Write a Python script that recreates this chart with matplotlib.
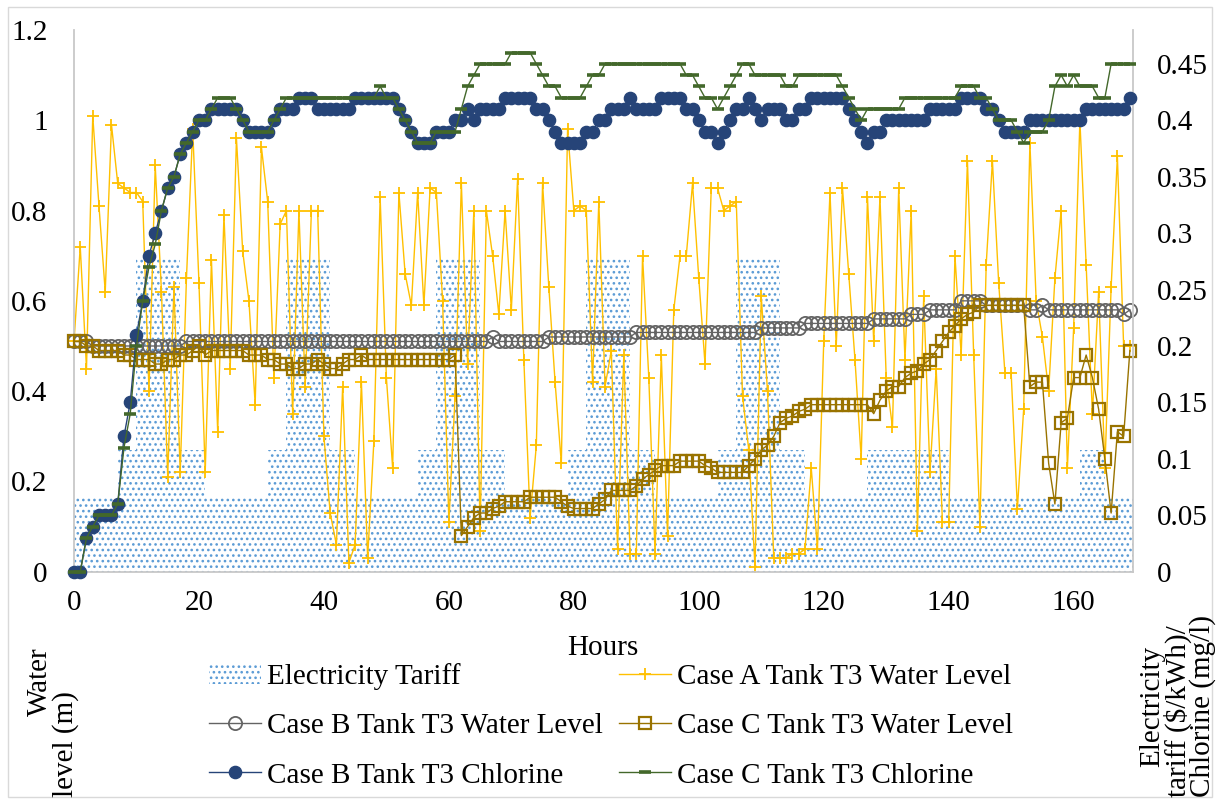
import matplotlib
matplotlib.use('Agg')
import matplotlib.pyplot as plt
from matplotlib.patches import Patch, Rectangle
from matplotlib.lines import Line2D

plt.rcParams['font.family'] = ['Liberation Serif', 'DejaVu Serif']
plt.rcParams['hatch.linewidth'] = 1.1
plt.rcParams['hatch.color'] = '#5B9BD5'

hours = list(range(170))

case_a_level = [
    0.51, 0.72, 0.45, 1.01, 0.81, 0.62, 0.99, 0.86, 0.85, 0.84,
    0.84, 0.82, 0.40, 0.90, 0.62, 0.21, 0.63, 0.22, 0.65, 0.98,
    0.64, 0.22, 0.69, 0.31, 0.79, 0.45, 0.96, 0.71, 0.60, 0.37,
    0.94, 0.82, 0.43, 0.77, 0.80, 0.35, 0.80, 0.41, 0.80, 0.80,
    0.30, 0.13, 0.06, 0.41, 0.02, 0.06, 0.42, 0.03, 0.29, 0.83,
    0.43, 0.23, 0.84, 0.66, 0.59, 0.84, 0.59, 0.85, 0.84, 0.60,
    0.11, 0.39, 0.86, 0.46, 0.80, 0.09, 0.80, 0.70, 0.57, 0.80,
    0.58, 0.87, 0.47, 0.12, 0.28, 0.86, 0.63, 0.42, 0.24, 0.98,
    0.80, 0.81, 0.80, 0.42, 0.82, 0.41, 0.49, 0.05, 0.48, 0.04,
    0.04, 0.70, 0.43, 0.04, 0.48, 0.08, 0.58, 0.70, 0.70, 0.86,
    0.65, 0.46, 0.85, 0.85, 0.80, 0.81, 0.82, 0.39, 0.27, 0.01,
    0.61, 0.40, 0.03, 0.03, 0.03, 0.04, 0.04, 0.05, 0.23, 0.05,
    0.51, 0.84, 0.50, 0.85, 0.66, 0.47, 0.25, 0.83, 0.51, 0.83,
    0.43, 0.32, 0.85, 0.47, 0.80, 0.09, 0.61, 0.22, 0.45, 0.11,
    0.11, 0.70, 0.48, 0.91, 0.48, 0.10, 0.68, 0.91, 0.64, 0.44,
    0.44, 0.14, 0.36, 0.95, 0.60, 0.52, 0.40, 0.65, 0.80, 0.23,
    0.54, 1.00, 0.68, 0.35, 0.62, 0.23, 0.63, 0.92, 0.50, 0.50,
]

case_b_level = [
    0.51, 0.51, 0.51, 0.50, 0.50, 0.50, 0.50, 0.50, 0.50, 0.50,
    0.50, 0.50, 0.50, 0.50, 0.50, 0.50, 0.50, 0.50, 0.51, 0.51,
    0.51, 0.51, 0.51, 0.51, 0.51, 0.51, 0.51, 0.51, 0.51, 0.51,
    0.51, 0.51, 0.51, 0.51, 0.51, 0.51, 0.51, 0.51, 0.51, 0.51,
    0.51, 0.51, 0.51, 0.51, 0.51, 0.51, 0.51, 0.51, 0.51, 0.51,
    0.51, 0.51, 0.51, 0.51, 0.51, 0.51, 0.51, 0.51, 0.51, 0.51,
    0.51, 0.51, 0.51, 0.51, 0.51, 0.51, 0.51, 0.52, 0.51, 0.51,
    0.51, 0.51, 0.51, 0.51, 0.51, 0.51, 0.52, 0.52, 0.52, 0.52,
    0.52, 0.52, 0.52, 0.52, 0.52, 0.52, 0.52, 0.52, 0.52, 0.52,
    0.53, 0.53, 0.53, 0.53, 0.53, 0.53, 0.53, 0.53, 0.53, 0.53,
    0.53, 0.53, 0.53, 0.53, 0.53, 0.53, 0.53, 0.53, 0.53, 0.53,
    0.54, 0.54, 0.54, 0.54, 0.54, 0.54, 0.54, 0.55, 0.55, 0.55,
    0.55, 0.55, 0.55, 0.55, 0.55, 0.55, 0.55, 0.55, 0.56, 0.56,
    0.56, 0.56, 0.56, 0.56, 0.57, 0.57, 0.57, 0.58, 0.58, 0.58,
    0.58, 0.58, 0.60, 0.60, 0.60, 0.60, 0.59, 0.59, 0.59, 0.59,
    0.59, 0.59, 0.59, 0.58, 0.58, 0.59, 0.58, 0.58, 0.58, 0.58,
    0.58, 0.58, 0.58, 0.58, 0.58, 0.58, 0.58, 0.58, 0.57, 0.58,
]

case_c_level = [
    0.51, 0.51, 0.50, 0.50, 0.49, 0.49, 0.49, 0.49, 0.48, 0.48,
    0.47, 0.47, 0.47, 0.46, 0.46, 0.47, 0.47, 0.48, 0.48, 0.49,
    0.50, 0.48, 0.49, 0.49, 0.49, 0.49, 0.49, 0.49, 0.48, 0.48,
    0.48, 0.47, 0.47, 0.46, 0.46, 0.45, 0.45, 0.46, 0.46, 0.47,
    0.46, 0.45, 0.45, 0.46, 0.47, 0.47, 0.48, 0.47, 0.47, 0.47,
    0.47, 0.47, 0.47, 0.47, 0.47, 0.47, 0.47, 0.47, 0.47, 0.47,
    0.47, 0.48, 0.08, 0.10, 0.12, 0.13, 0.13, 0.14, 0.145, 0.155,
    0.155, 0.155, 0.155, 0.165, 0.165, 0.165, 0.165, 0.165, 0.155, 0.145,
    0.14, 0.14, 0.14, 0.14, 0.15, 0.16, 0.18, 0.18, 0.18, 0.18,
    0.19, 0.205, 0.215, 0.225, 0.235, 0.235, 0.235, 0.245, 0.245, 0.245,
    0.245, 0.235, 0.23, 0.22, 0.22, 0.22, 0.22, 0.22, 0.235, 0.25,
    0.27, 0.28, 0.30, 0.33, 0.34, 0.345, 0.355, 0.36, 0.37, 0.37,
    0.37, 0.37, 0.37, 0.37, 0.37, 0.37, 0.37, 0.37, 0.35, 0.38,
    0.40, 0.41, 0.41, 0.43, 0.44, 0.445, 0.46, 0.47, 0.49, 0.51,
    0.53, 0.545, 0.56, 0.57, 0.575, 0.59, 0.59, 0.59, 0.59, 0.59,
    0.59, 0.59, 0.59, 0.41, 0.42, 0.42, 0.24, 0.15, 0.33, 0.34,
    0.43, 0.43, 0.48, 0.43, 0.36, 0.25, 0.13, 0.31, 0.30, 0.49,
]

case_b_chlorine = [
    0.00, 0.00, 0.03, 0.04, 0.05, 0.05, 0.05, 0.06, 0.12, 0.15,
    0.21, 0.24, 0.28, 0.30, 0.32, 0.34, 0.35, 0.37, 0.38, 0.39,
    0.40, 0.40, 0.41, 0.41, 0.41, 0.41, 0.41, 0.40, 0.39, 0.39,
    0.39, 0.39, 0.40, 0.41, 0.41, 0.41, 0.42, 0.42, 0.42, 0.41,
    0.41, 0.41, 0.41, 0.41, 0.41, 0.42, 0.42, 0.42, 0.42, 0.42,
    0.42, 0.42, 0.41, 0.40, 0.39, 0.38, 0.38, 0.38, 0.39, 0.39,
    0.39, 0.40, 0.40, 0.41, 0.40, 0.41, 0.41, 0.41, 0.41, 0.42,
    0.42, 0.42, 0.42, 0.42, 0.41, 0.41, 0.40, 0.39, 0.38, 0.38,
    0.38, 0.38, 0.39, 0.39, 0.40, 0.40, 0.41, 0.41, 0.41, 0.42,
    0.41, 0.41, 0.41, 0.41, 0.42, 0.42, 0.42, 0.42, 0.41, 0.41,
    0.40, 0.39, 0.39, 0.38, 0.39, 0.40, 0.41, 0.41, 0.42, 0.41,
    0.40, 0.41, 0.41, 0.41, 0.40, 0.40, 0.41, 0.41, 0.42, 0.42,
    0.42, 0.42, 0.42, 0.42, 0.41, 0.40, 0.39, 0.38, 0.39, 0.39,
    0.40, 0.40, 0.40, 0.40, 0.40, 0.40, 0.40, 0.41, 0.41, 0.41,
    0.41, 0.41, 0.42, 0.42, 0.42, 0.42, 0.41, 0.41, 0.40, 0.39,
    0.39, 0.39, 0.39, 0.40, 0.40, 0.40, 0.40, 0.40, 0.40, 0.40,
    0.40, 0.40, 0.41, 0.41, 0.41, 0.41, 0.41, 0.41, 0.41, 0.42,
]

case_c_chlorine = [
    0.00, 0.00, 0.03, 0.04, 0.05, 0.05, 0.05, 0.06, 0.11, 0.14,
    0.20, 0.24, 0.27, 0.29, 0.32, 0.34, 0.35, 0.37, 0.38, 0.39,
    0.40, 0.40, 0.41, 0.42, 0.42, 0.42, 0.41, 0.40, 0.39, 0.39,
    0.39, 0.39, 0.40, 0.41, 0.42, 0.42, 0.42, 0.42, 0.42, 0.42,
    0.42, 0.42, 0.42, 0.42, 0.42, 0.42, 0.42, 0.42, 0.42, 0.43,
    0.42, 0.42, 0.41, 0.40, 0.39, 0.38, 0.38, 0.38, 0.39, 0.39,
    0.39, 0.39, 0.41, 0.43, 0.44, 0.45, 0.45, 0.45, 0.45, 0.45,
    0.46, 0.46, 0.46, 0.46, 0.45, 0.44, 0.43, 0.43, 0.42, 0.42,
    0.42, 0.42, 0.43, 0.44, 0.44, 0.45, 0.45, 0.45, 0.45, 0.45,
    0.45, 0.45, 0.45, 0.45, 0.45, 0.45, 0.45, 0.45, 0.44, 0.44,
    0.43, 0.42, 0.42, 0.41, 0.42, 0.43, 0.44, 0.45, 0.45, 0.44,
    0.44, 0.44, 0.44, 0.44, 0.43, 0.43, 0.44, 0.44, 0.44, 0.44,
    0.44, 0.44, 0.44, 0.43, 0.42, 0.41, 0.40, 0.41, 0.41, 0.41,
    0.41, 0.41, 0.41, 0.42, 0.42, 0.42, 0.42, 0.42, 0.42, 0.42,
    0.42, 0.42, 0.43, 0.43, 0.43, 0.42, 0.42, 0.41, 0.40, 0.40,
    0.40, 0.39, 0.38, 0.39, 0.39, 0.39, 0.40, 0.43, 0.44, 0.43,
    0.44, 0.43, 0.43, 0.43, 0.42, 0.42, 0.45, 0.45, 0.45, 0.45,
]

# electricity tariff ($/kWh): step edges (hours) and value of each step
tariff_edges = [0, 7, 10, 17, 21, 31, 34, 41, 45, 55, 58, 65, 69, 79, 82, 89,
                93, 103, 106, 113, 117, 127, 140, 161, 165, 169.5]
tariff_values = [0.067, 0.108, 0.277, 0.108, 0.067, 0.108, 0.277, 0.108,
                 0.067, 0.108, 0.277, 0.108, 0.067, 0.108, 0.277, 0.108,
                 0.067, 0.108, 0.277, 0.108, 0.067, 0.108, 0.067, 0.108,
                 0.067]

left_ticks = [0, 0.2, 0.4, 0.6, 0.8, 1.0, 1.2]
left_labels = ['0', '0.2', '0.4', '0.6', '0.8', '1', '1.2']
right_ticks = [0, 0.05, 0.1, 0.15, 0.2, 0.25, 0.3, 0.35, 0.4, 0.45]
right_labels = ['0', '0.05', '0.1', '0.15', '0.2', '0.25', '0.3', '0.35', '0.4', '0.45']
x_ticks = [0, 20, 40, 60, 80, 100, 120, 140, 160]

C_TARIFF = '#5B9BD5'
C_A = '#FFC000'
C_BL = '#636363'
C_CL = '#997300'
C_BCL = '#264478'
C_CCL = '#43682B'
SPINE = '#C8C8C8'
FS = 21

fig = plt.figure(figsize=(12.2, 8.02), dpi=100)
L, B = 74 / 1220, (802 - 571.7) / 802
W, H = (1133 - 74) / 1220, (571.7 - 30) / 802
ax = fig.add_axes([L, B, W, H])
ax_t = ax.twinx()
ax2 = ax.twinx()
ax_t.set_zorder(0)
ax.set_zorder(1)
ax2.set_zorder(2)
ax.patch.set_visible(False)
ax2.patch.set_visible(False)
ax_t.patch.set_facecolor('white')

# tariff (hatched area)
ax_t.stairs(tariff_values, tariff_edges, fill=True, facecolor='none',
            edgecolor=C_TARIFF, hatch='...', linewidth=0)

# water levels (left axis)
ax.plot(hours, case_a_level, color=C_A, lw=1.0, marker='+', ms=8, mew=1.3,
        clip_on=False, zorder=2)
ax.plot(hours, case_b_level, color=C_BL, lw=1.0, marker='o', ms=9.5,
        mfc='none', mec=C_BL, mew=1.3, clip_on=False, zorder=3)
ax.plot(hours, case_c_level, color=C_CL, lw=1.0, marker='s', ms=8.5,
        mfc='none', mec=C_CL, mew=1.6, clip_on=False, zorder=4)

# chlorine (right axis)
ax2.plot(hours, case_b_chlorine, color=C_BCL, lw=1.0, marker='o', ms=8.8,
         mfc=C_BCL, mec=C_BCL, clip_on=False, zorder=3)
ax2.plot(hours, case_c_chlorine, color=C_CCL, lw=1.0, marker='_', ms=8,
         mew=2.6, mec=C_CCL, clip_on=False, zorder=4)

for a in (ax, ax_t, ax2):
    a.set_xlim(0, 169.5)
ax.set_ylim(0, 1.2)
ax_t.set_ylim(0, 0.48)
ax2.set_ylim(0, 0.48)

ax.set_xticks(x_ticks)
ax.set_xticklabels([str(v) for v in x_ticks], fontsize=FS)
ax.set_yticks(left_ticks)
ax.set_yticklabels(left_labels, fontsize=FS)
ax.tick_params(axis='x', length=0, pad=13)
ax.tick_params(axis='y', length=0, pad=19)

ax2.set_yticks(right_ticks)
ax2.set_yticklabels(right_labels, fontsize=FS)
ax2.tick_params(axis='y', length=0, pad=17)
ax_t.set_yticks([])
ax_t.tick_params(axis='both', length=0)

for s in ax_t.spines.values():
    s.set_visible(False)
for name, s in ax.spines.items():
    s.set_visible(name in ('left', 'bottom'))
    s.set_color(SPINE)
    s.set_linewidth(1.3)
for name, s in ax2.spines.items():
    s.set_visible(name == 'right')
    s.set_color(SPINE)
    s.set_linewidth(1.3)

# axis titles
fig.text(603 / 1220, 1 - 648 / 802, 'Hours', ha='center', va='center', fontsize=FS)
fig.text(40 / 1220, 1 - 682 / 802, 'Water', rotation=90, ha='center', va='center', fontsize=FS)
fig.text(66 / 1220, 1 - 744 / 802, 'level (m)', rotation=90, ha='center', va='center', fontsize=FS)
fig.text(1152 / 1220, 1 - 706 / 802, 'Electricity', rotation=90, ha='center', va='center', fontsize=FS)
fig.text(1178 / 1220, 1 - 711 / 802, 'tariff ($/kWh)/', rotation=90, ha='center', va='center', fontsize=FS)
fig.text(1203 / 1220, 1 - 706 / 802, 'Chlorine (mg/l)', rotation=90, ha='center', va='center', fontsize=FS)

# legend
h_tariff = Patch(facecolor='none', edgecolor=C_TARIFF, hatch='...', linewidth=0)
h_a = Line2D([], [], color=C_A, lw=1.0, marker='+', ms=8, mew=1.3)
h_bl = Line2D([], [], color=C_BL, lw=1.0, marker='o', ms=9.5, mfc='none', mec=C_BL, mew=1.3)
h_cl = Line2D([], [], color=C_CL, lw=1.0, marker='s', ms=8.5, mfc='none', mec=C_CL, mew=1.6)
h_bcl = Line2D([], [], color=C_BCL, lw=1.0, marker='o', ms=8.8, mfc=C_BCL, mec=C_BCL)
h_ccl = Line2D([], [], color=C_CCL, lw=1.0, marker='_', ms=8, mew=2.6, mec=C_CCL)
handles = [h_tariff, h_bl, h_bcl, h_a, h_cl, h_ccl]
labels = ['Electricity Tariff', 'Case B Tank T3 Water Level', 'Case B Tank T3 Chlorine',
          'Case A Tank T3 Water Level', 'Case C Tank T3 Water Level', 'Case C Tank T3 Chlorine']
fig.legend(handles, labels, ncol=2, loc='center', bbox_to_anchor=(611 / 1220, 1 - 726 / 802),
           frameon=False, fontsize=FS, handlelength=1.8, handletextpad=0.2,
           columnspacing=0.54, labelspacing=0.78, borderpad=0, numpoints=1)

fig.add_artist(Rectangle((8 / 1220, 1 - 797 / 802), (1212 - 8) / 1220, (797 - 7) / 802,
                         transform=fig.transFigure, fill=False, edgecolor='#D9D9D9', linewidth=1))

fig.savefig('out.png', dpi=100)
